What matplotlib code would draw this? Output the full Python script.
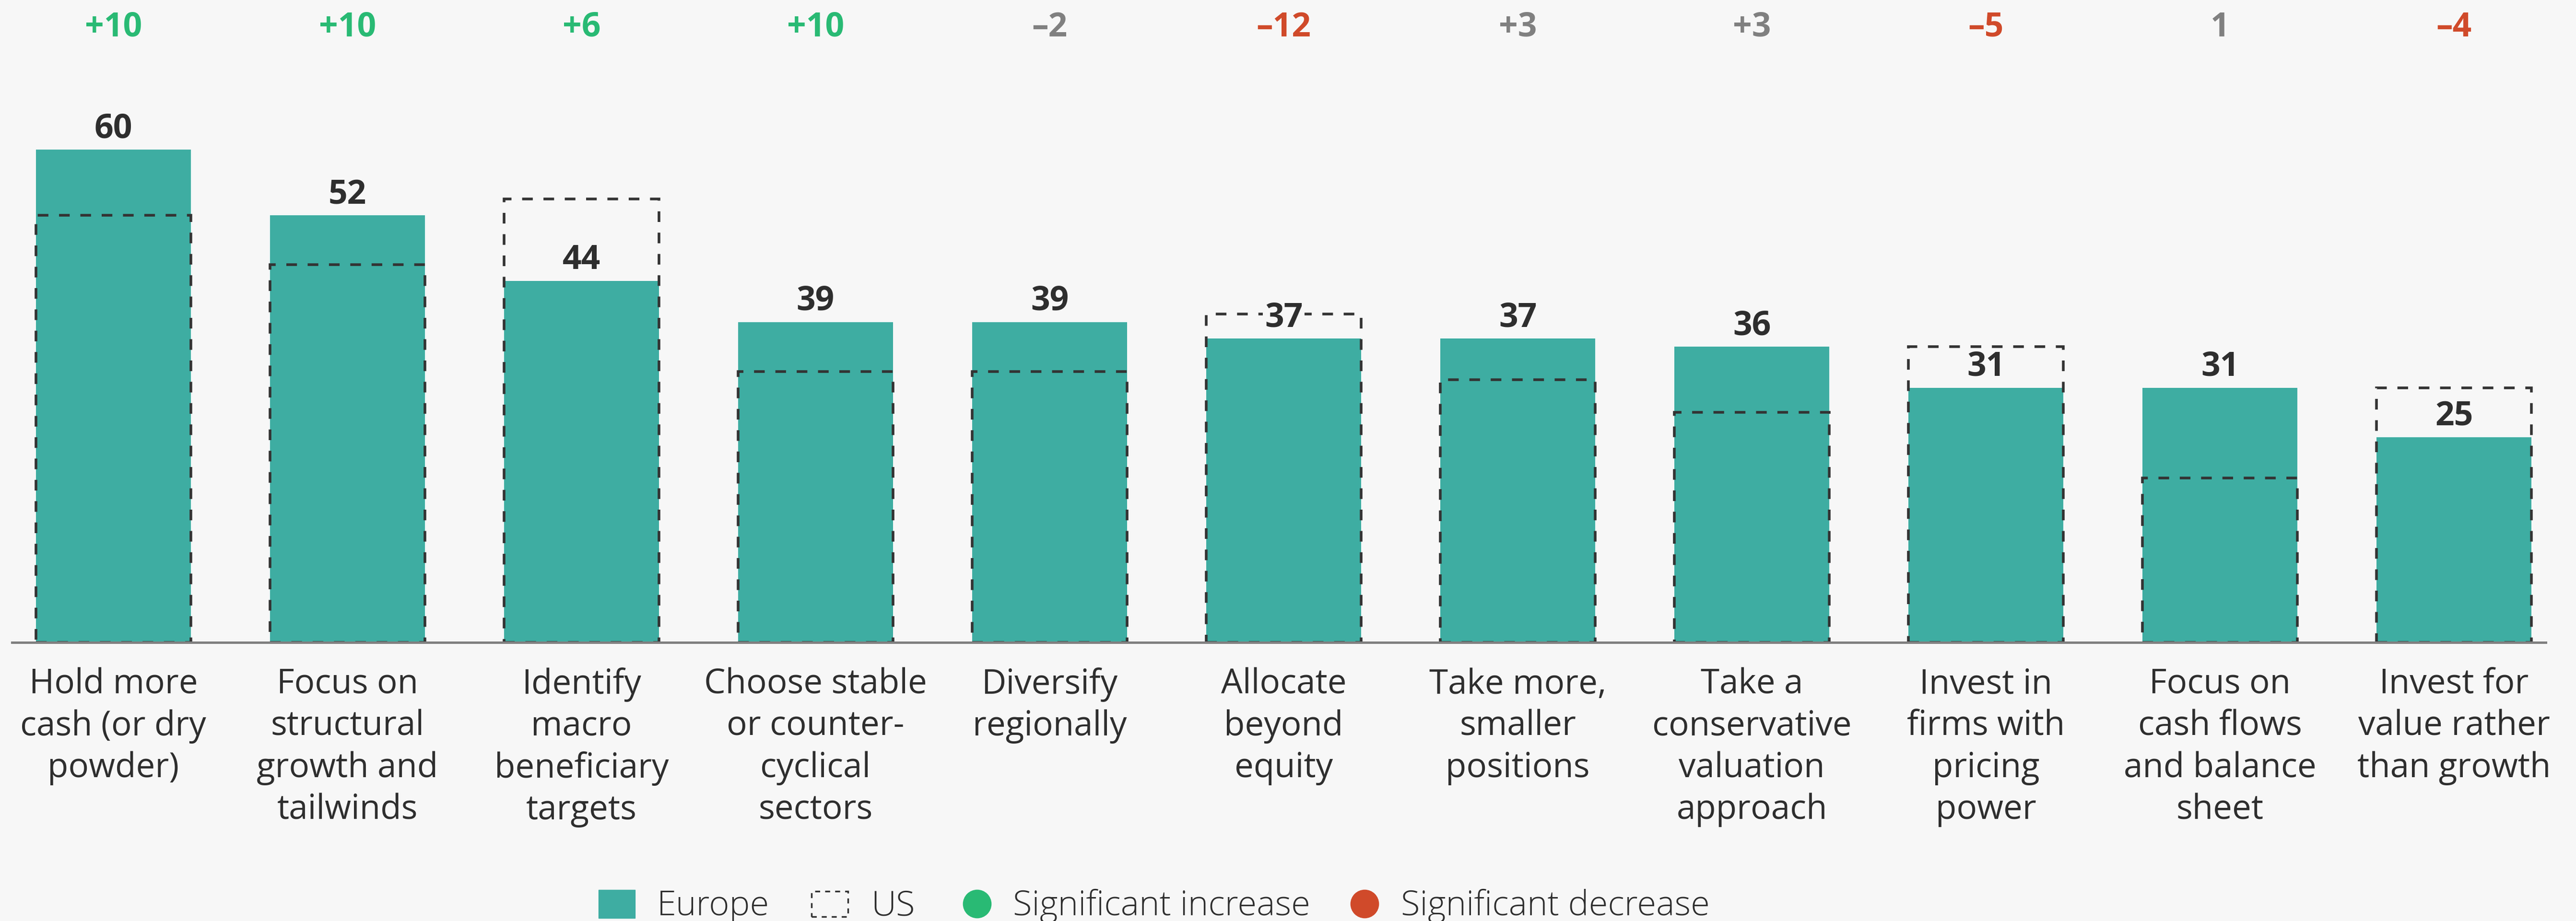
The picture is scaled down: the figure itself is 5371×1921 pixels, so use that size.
import numpy as np
import matplotlib
matplotlib.use("Agg")
import matplotlib.pyplot as plt
from matplotlib.transforms import blended_transform_factory
from matplotlib.patches import Rectangle
from matplotlib.lines import Line2D

# Share of investors per strategy: Europe (bars) vs US (dashed outline)
categories = [
    "Hold more\ncash (or dry\npowder)",
    "Focus on\nstructural\ngrowth and\ntailwinds",
    "Identify\nmacro\nbeneficiary\ntargets",
    "Choose stable\nor counter-\ncyclical\nsectors",
    "Diversify\nregionally",
    "Allocate\nbeyond\nequity",
    "Take more,\nsmaller\npositions",
    "Take a\nconservative\nvaluation\napproach",
    "Invest in\nfirms with\npricing\npower",
    "Focus on\ncash flows\nand balance\nsheet",
    "Invest for\nvalue rather\nthan growth",
]
europe = [60, 52, 44, 39, 39, 37, 37, 36, 31, 31, 25]
us = [52, 46, 54, 33, 33, 40, 32, 28, 36, 20, 31]
change = ["+10", "+10", "+6", "+10", "\u20132", "\u201312", "+3", "+3", "\u20135", "1", "\u20134"]
signif = ["up", "up", "up", "up", "", "down", "", "", "down", "", "down"]

BG = "#f7f7f7"
TEAL = "#3eada2"
DARK = "#2e2e2e"
GREEN = "#29ba74"
RED = "#d04a2a"
GREY = "#808080"
sig_color = {"up": GREEN, "down": RED, "": GREY}

plt.rcParams["font.family"] = ["Open Sans", "DejaVu Sans"]

W, H = 5371, 1921
fig = plt.figure(figsize=(W / 100, H / 100), dpi=100, facecolor=BG)
# axes placed in pixel terms: baseline at y=1340, 60 units = 1028 px
ax = fig.add_axes([25 / W, 1 - 1340 / H, (5308 - 25) / W, 1028 / H])
ax.set_facecolor(BG)

x = np.arange(len(categories))
width = 0.662
ax.bar(x, europe, width, color=TEAL, zorder=2)
ax.bar(x, us, width, facecolor="none", edgecolor="#333333", linewidth=4,
       linestyle=(0, (4, 4)), zorder=3)

ax.set_xlim(-0.433, 10.392)
ax.set_ylim(0, 60)
for s in ["top", "left", "right"]:
    ax.spines[s].set_visible(False)
ax.spines["bottom"].set_color(GREY)
ax.spines["bottom"].set_linewidth(3.6)
ax.spines["bottom"].set_zorder(5)
ax.set_xticks([])
ax.set_yticks([])

# value labels above the Europe bars; the background box breaks the
# dashed US outline where the two meet
for xi, v in zip(x, europe):
    ax.annotate(str(v), (xi, v), xytext=(0, 18), textcoords="offset points",
                ha="center", va="baseline", fontsize=50, fontweight="bold",
                color=DARK, zorder=6,
                bbox=dict(facecolor=BG, edgecolor="none", pad=3))

# change row along the top
trans = blended_transform_factory(ax.transData, fig.transFigure)
for xi, c, s in zip(x, change, signif):
    ax.text(xi, 1 - 76 / H, c, transform=trans, ha="center", va="baseline",
            fontsize=50, fontweight="bold", color=sig_color[s])

# category labels under the axis
for xi, lab in zip(x, categories):
    ax.text(xi, 1 - 1392 / H, lab, transform=trans, ha="center", va="top",
            fontsize=51, color=DARK, linespacing=1.29)

# legend row
def fx(px):
    return px / W

def fy(py):
    return 1 - py / H

fig.add_artist(Rectangle((fx(1248), fy(1915)), fx(76), 59 / H,
                         transform=fig.transFigure, color=TEAL))
fig.add_artist(Rectangle((fx(1692), fy(1912)), fx(76), 53 / H,
                         transform=fig.transFigure, facecolor="none",
                         edgecolor="#333333", linewidth=2.5,
                         linestyle=(0, (3, 3))))
fig.add_artist(Line2D([fx(2037)], [fy(1885)], marker="o", markersize=42,
                      color=GREEN, transform=fig.transFigure))
fig.add_artist(Line2D([fx(2845)], [fy(1885)], marker="o", markersize=42,
                      color=RED, transform=fig.transFigure))
for px, txt in [(1370, "Europe"), (1816, "US"), (2112, "Significant increase"),
                (2921, "Significant decrease")]:
    fig.text(fx(px), fy(1909), txt, ha="left", va="baseline", fontsize=52,
             fontweight="light", color=DARK)

fig.savefig("out.png", dpi=100, facecolor=BG)
